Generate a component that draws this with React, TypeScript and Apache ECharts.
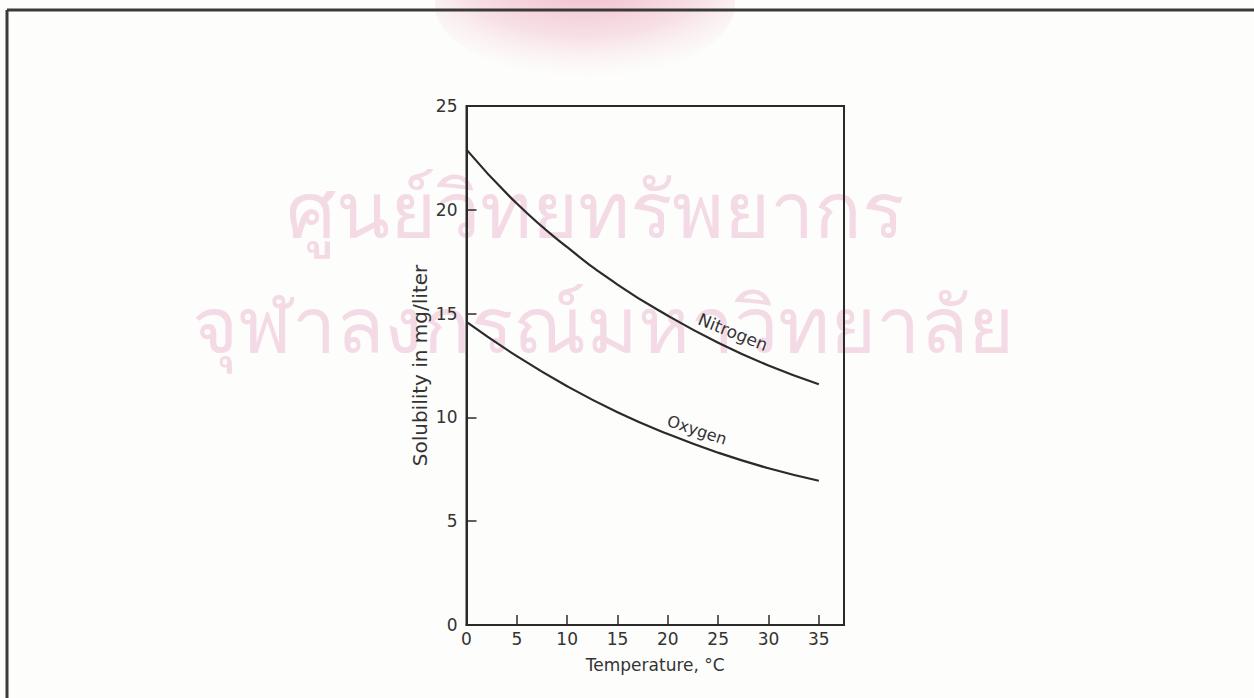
import React, { useEffect, useRef } from "react";
import * as echarts from "echarts";

const temperatures = [0, 5, 10, 15, 20, 25, 30, 35];
const nitrogen = [22.9, 20.3, 18.2, 16.4, 14.9, 13.6, 12.5, 11.6];
const oxygen = [14.6, 12.95, 11.5, 10.25, 9.2, 8.3, 7.55, 6.95];
const seriesNames = ["Nitrogen", "Oxygen"];
const xAxisTitle = "Temperature, °C";
const yAxisTitle = "Solubility in mg/liter";
const watermarkLines = ["ศูนย์วิทยทรัพยากร", "จุฬาลงกรณ์มหาวิทยาลัย"];

export default function App() {
  const ref = useRef<HTMLDivElement>(null);
  useEffect(() => {
    if (!ref.current) return;
    const chart = echarts.init(ref.current, undefined, { renderer: "svg" });
    const ink = "#2a2a2a";
    const font = "'DejaVu Sans', sans-serif";
    const option: any = {
      animation: false,
      backgroundColor: "#fdfdfc",
      grid: {
        left: 466.5,
        top: 106,
        right: 410,
        bottom: 73,
        show: true,
        borderColor: ink,
        borderWidth: 2,
        backgroundColor: "transparent",
      },
      xAxis: {
        type: "value",
        min: 0,
        max: 37.5,
        interval: 5,
        name: xAxisTitle,
        nameLocation: "middle",
        nameGap: 31,
        nameTextStyle: { fontFamily: font, fontSize: 17, color: "#333" },
        axisLine: { show: true, lineStyle: { color: ink, width: 2 } },
        axisTick: { show: true, inside: true, length: 10, lineStyle: { color: ink, width: 1.5 } },
        axisLabel: {
          margin: 5,
          fontFamily: font,
          fontSize: 17,
          color: "#333",
          formatter: (v: number) => (v % 5 === 0 ? String(v) : ""),
        },
        splitLine: { show: false },
      },
      yAxis: {
        type: "value",
        min: 0,
        max: 25,
        interval: 5,
        name: yAxisTitle,
        nameLocation: "middle",
        nameGap: 37,
        nameRotate: 90,
        nameTextStyle: { fontFamily: font, fontSize: 20, color: "#333" },
        axisLine: { show: true, lineStyle: { color: ink, width: 2 } },
        axisTick: { show: true, inside: true, length: 10, lineStyle: { color: ink, width: 1.5 } },
        axisLabel: { margin: 9, fontFamily: font, fontSize: 17, color: "#333" },
        splitLine: { show: false },
      },
      graphic: [
        {
          type: "ellipse",
          shape: { cx: 585, cy: 5, rx: 150, ry: 72 },
          style: {
            fill: new echarts.graphic.RadialGradient(0.5, 0.3, 0.7, [
              { offset: 0, color: "rgba(226,120,150,0.55)" },
              { offset: 0.6, color: "rgba(236,170,190,0.35)" },
              { offset: 1, color: "rgba(245,215,225,0.0)" },
            ]),
          },
          silent: true,
          z: -10,
        },
        {
          type: "text",
          x: 595,
          y: 207,
          style: {
            text: watermarkLines[0],
            font: "79px 'Noto Sans', 'DejaVu Sans', sans-serif",
            fill: "rgba(225,150,180,0.33)",
            align: "center",
            verticalAlign: "middle",
          },
          silent: true,
          z: -10,
        },
        {
          type: "text",
          x: 603,
          y: 322,
          style: {
            text: watermarkLines[1],
            font: "79px 'Noto Sans', 'DejaVu Sans', sans-serif",
            fill: "rgba(225,150,180,0.33)",
            align: "center",
            verticalAlign: "middle",
          },
          silent: true,
          z: -10,
        },
        {
          type: "line",
          shape: { x1: 7, y1: 10, x2: 1254, y2: 10 },
          style: { stroke: "#3a3a3a", lineWidth: 3 },
        },
        {
          type: "line",
          shape: { x1: 7, y1: 10, x2: 7, y2: 698 },
          style: { stroke: "#3a3a3a", lineWidth: 3 },
        },
        {
          type: "text",
          x: 733,
          y: 332,
          rotation: -0.38,
          style: {
            text: seriesNames[0],
            font: "17px 'DejaVu Sans', sans-serif",
            fill: "#333",
            align: "center",
            verticalAlign: "middle",
          },
        },
        {
          type: "text",
          x: 697,
          y: 430,
          rotation: -0.32,
          style: {
            text: seriesNames[1],
            font: "16px 'DejaVu Sans', sans-serif",
            fill: "#333",
            align: "center",
            verticalAlign: "middle",
          },
        },
      ],
      series: [
        {
          name: seriesNames[0],
          type: "line",
          smooth: 0.5,
          symbol: "none",
          lineStyle: { color: ink, width: 2.2 },
          data: temperatures.map((t, i) => [t, nitrogen[i]]),
        },
        {
          name: seriesNames[1],
          type: "line",
          smooth: 0.5,
          symbol: "none",
          lineStyle: { color: ink, width: 2.2 },
          data: temperatures.map((t, i) => [t, oxygen[i]]),
        },
      ],
    };
    chart.setOption(option);
    return () => chart.dispose();
  }, []);
  return (
    <div
      ref={ref}
      style={{ position: "fixed", left: 0, top: 0, width: 1254, height: 698 }}
    />
  );
}
